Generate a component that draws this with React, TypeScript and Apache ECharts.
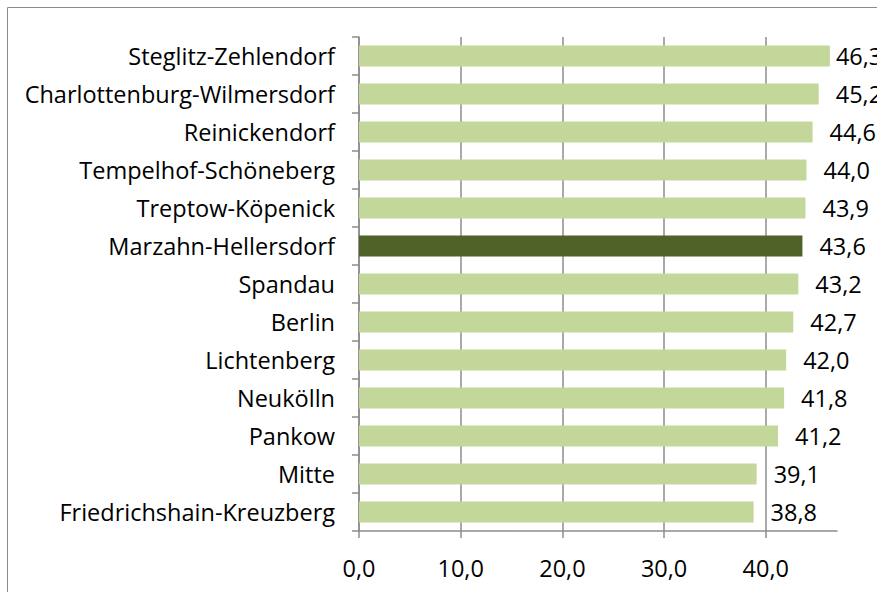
import React, { useEffect, useRef } from "react";
import * as echarts from "echarts";

const categories = [
  "Steglitz-Zehlendorf",
  "Charlottenburg-Wilmersdorf",
  "Reinickendorf",
  "Tempelhof-Schöneberg",
  "Treptow-Köpenick",
  "Marzahn-Hellersdorf",
  "Spandau",
  "Berlin",
  "Lichtenberg",
  "Neukölln",
  "Pankow",
  "Mitte",
  "Friedrichshain-Kreuzberg",
];
const values = [46.3, 45.2, 44.6, 44.0, 43.9, 43.6, 43.2, 42.7, 42.0, 41.8, 41.2, 39.1, 38.8];
const highlighted = "Marzahn-Hellersdorf";
const xTicks = [0, 10, 20, 30, 40];

const FONT = "Open Sans";
const FS = 23.5;
const fmt = (v: number) => v.toFixed(1).replace(".", ",");

export default function App() {
  const ref = useRef<HTMLDivElement>(null);
  useEffect(() => {
    if (!ref.current) return;
    const chart = echarts.init(ref.current, undefined, { renderer: "svg" });
    chart.setOption({
      animation: false,
      backgroundColor: "#ffffff",
      textStyle: { fontFamily: FONT },
      graphic: [
        {
          type: "rect",
          shape: { x: 7.5, y: 7.5, width: 1000, height: 1000 },
          style: { fill: "none", stroke: "#8c8c8c", lineWidth: 1 },
          silent: true,
        },
      ],
      grid: { left: 359, right: 40, top: 37, bottom: 61, containLabel: false },
      xAxis: {
        type: "value",
        min: 0,
        max: 47,
        interval: 10,
        axisLine: { show: true, lineStyle: { color: "#8c8c8c", width: 1.5 } },
        axisTick: { show: true, length: 7, customValues: xTicks, lineStyle: { color: "#8c8c8c", width: 1.5 } },
        axisLabel: {
          customValues: xTicks,
          formatter: (v: number) => fmt(v),
          color: "#000",
          fontSize: FS,
          fontFamily: FONT,
          margin: 25,
        },
        splitLine: { show: true, lineStyle: { color: "#8c8c8c", width: 1.5 } },
      },
      yAxis: {
        type: "category",
        data: categories,
        inverse: true,
        axisLine: { show: true, lineStyle: { color: "#8c8c8c", width: 1.5 } },
        axisTick: { show: true, length: 7, lineStyle: { color: "#8c8c8c", width: 1.5 } },
        axisLabel: { color: "#000", fontSize: FS, fontFamily: FONT, margin: 24 },
        splitLine: { show: false },
      },
      series: [
        {
          type: "bar",
          data: values.map((v, i) => ({
            value: v,
            itemStyle: { color: categories[i] === highlighted ? "#4f6228" : "#c4d79b" },
            label: i === 0 ? { distance: 6 } : undefined,
          })),
          barCategoryGap: "45%",
          label: {
            show: true,
            position: "right",
            distance: 17,
            color: "#000",
            fontSize: FS,
            fontFamily: FONT,
            formatter: (p: any) => fmt(p.value),
          },
        },
      ],
    });
    return () => chart.dispose();
  }, []);
  return (
    <div
      ref={ref}
      style={{ position: "fixed", left: 0, top: 0, width: 877, height: 592 }}
    />
  );
}
